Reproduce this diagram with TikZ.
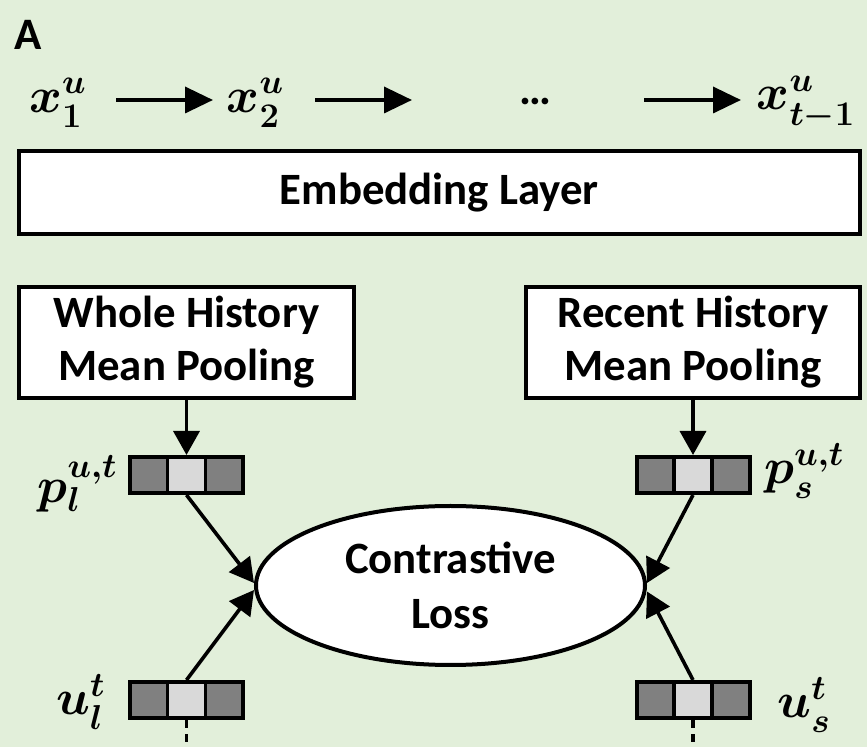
\documentclass[tikz,border=0pt]{standalone}
\usepackage{fontspec}
\setmainfont{Carlito}
\usetikzlibrary{shapes.geometric,arrows.meta,calc}
\definecolor{bg}{HTML}{E2EFDA}
\definecolor{vdark}{HTML}{808080}
\definecolor{vlight}{HTML}{D9D9D9}
\begin{document}
\begin{tikzpicture}[x=0.5pt,y=-0.5pt,
  txt/.style={font=\fontsize{22.4}{26.5}\selectfont\bfseries},
  box/.style={txt, draw, line width=2pt, fill=white, align=center, inner sep=0pt},
  vecbox/.style={draw, line width=2pt, minimum width=56.5pt, minimum height=18pt, inner sep=0pt,
    path picture={
      \fill[vdark] (path picture bounding box.south west) rectangle (path picture bounding box.north east);
      \fill[vlight] ($(path picture bounding box.south west)!1/3!(path picture bounding box.south east)$) rectangle ($(path picture bounding box.north west)!2/3!(path picture bounding box.north east)$);
      \draw[line width=1.8pt] ($(path picture bounding box.south west)!1/3!(path picture bounding box.south east)$) -- ($(path picture bounding box.north west)!1/3!(path picture bounding box.north east)$);
      \draw[line width=1.8pt] ($(path picture bounding box.south west)!2/3!(path picture bounding box.south east)$) -- ($(path picture bounding box.north west)!2/3!(path picture bounding box.north east)$);
    }},
  mathtop/.style={font=\fontsize{23}{27}\selectfont\boldmath, inner sep=0pt},
  lab/.style={font=\fontsize{27}{31}\selectfont\boldmath, inner sep=0pt},
  arr/.style={line width=1.8pt, -{Triangle[length=12pt,width=13pt]}},
  toparr/.style={line width=1.8pt, -{Triangle[length=14pt,width=13pt]}},
  dashline/.style={line width=1.8pt, dash pattern=on 4pt off 3pt}
]
\fill[bg] (0,0) rectangle (867,747);
\useasboundingbox (0,0) rectangle (867,747);

\node[txt, font=\fontsize{22.5}{26}\selectfont\bfseries, anchor=base west, inner sep=0pt] (lblA) at (14,50) {A};

% input sequence
\node[mathtop] (x1) at (58,103) {$x^{u}_{1}$};
\node[mathtop] (x2) at (255.5,103) {$x^{u}_{2}$};
\node[txt, inner sep=0pt] (dots) at (535,102) {…};
\node[mathtop] (xt) at (806,103) {$x^{u}_{t-1}$};
\draw[toparr] ([shift={(29pt,1.5pt)}]x1.center) -- ([shift={(-21.25pt,1.5pt)}]x2.center);
\draw[toparr] ([shift={(29.75pt,1.5pt)}]x2.center) -- ([shift={(-61.5pt,1pt)}]dots.center);
\draw[toparr] ([shift={(54.5pt,1pt)}]dots.center) -- ([shift={(-32.5pt,1.5pt)}]xt.center);

% embedding layer
\node[box, minimum width=420.5pt, minimum height=41.5pt] (emb) at (439.3,192.5) {Embedding Layer};

% pooling boxes
\node[box, minimum width=167.5pt, minimum height=55.5pt] (whole) at (186.5,342.5) {Whole History\\Mean Pooling};
\node[box, minimum width=167pt, minimum height=55.5pt] (recent) at (693,342.5) {Recent History\\Mean Pooling};

% vectors
\node[vecbox] (pl) at (186.5,475) {};
\node[vecbox] (ps) at (693,475) {};
\node[vecbox] (ul) at (186.5,700) {};
\node[vecbox] (us) at (693,700) {};

\node[lab, anchor=east] (lpl) at (118,484) {$p_l^{u,t}$};
\node[lab, anchor=west] (lps) at (764,471) {$p_s^{u,t}$};
\node[lab, anchor=east] (lul) at (106,702) {$u_l^{t}$};
\node[lab, anchor=west] (lus) at (777,705) {$u_s^{t}$};

% contrastive loss
\node[txt, draw, line width=2pt, fill=white, ellipse, inner sep=0pt, align=center,
      minimum width=194.5pt, minimum height=79.5pt, font=\fontsize{22.4}{27.5}\selectfont\bfseries]
      (loss) at (450.5,585.5) {Contrastive\\Loss};

% connectors
\draw[arr] (whole) -- (pl);
\draw[arr] (recent) -- (ps);
\draw[arr] (pl.south) -- ([yshift=1.25pt]loss.west);
\draw[arr] (ul.north) -- ([yshift=-2.25pt]loss.west);
\draw[arr] (ps.south) -- ([yshift=1.25pt]loss.east);
\draw[arr] (us.north) -- ([yshift=-3pt]loss.east);

\coordinate (dl) at (186.5,747);
\coordinate (ds) at (693,747);
\draw[dashline] (ul.south) -- (dl);
\draw[dashline] (us.south) -- (ds);
\end{tikzpicture}
\end{document}
